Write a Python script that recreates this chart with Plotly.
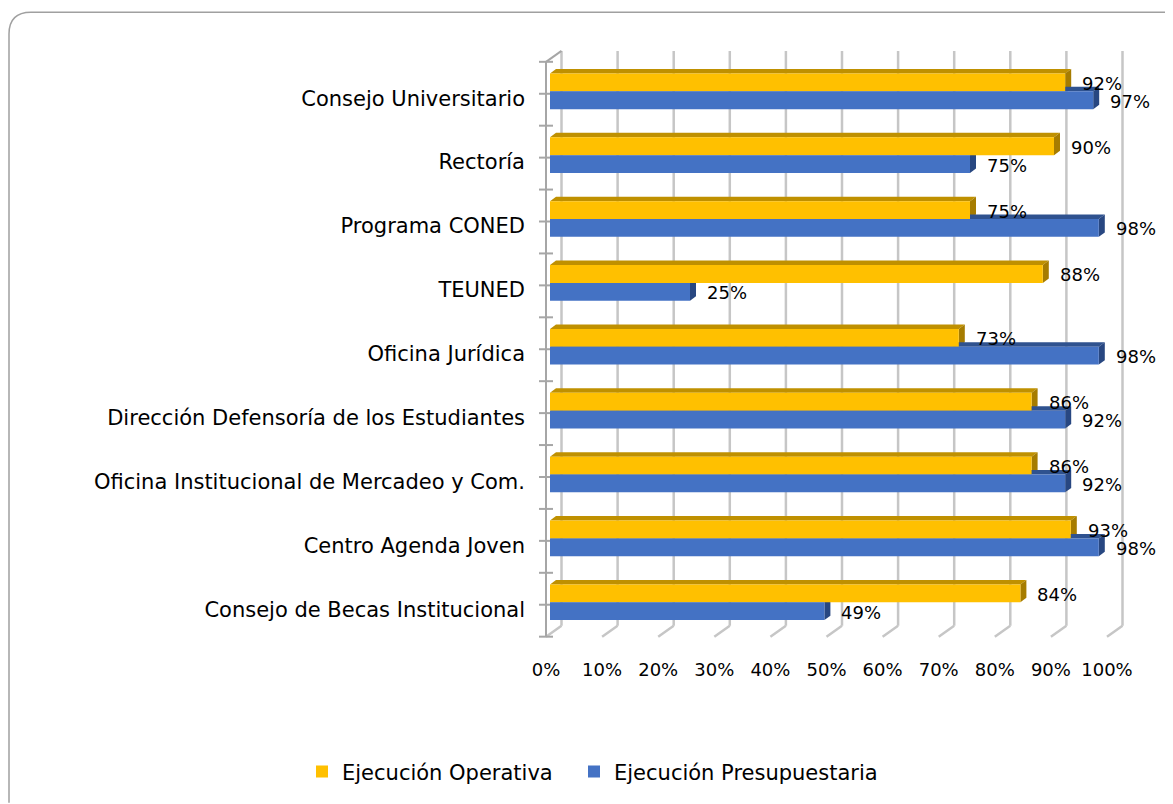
import plotly.graph_objects as go

# ---------------- data ----------------
categories = [
    "Consejo Universitario",
    "Rectoría",
    "Programa CONED",
    "TEUNED",
    "Oficina Jurídica",
    "Dirección Defensoría de los Estudiantes",
    "Oficina Institucional de Mercadeo y Com.",
    "Centro Agenda Joven",
    "Consejo de Becas Institucional",
]
ejec_operativa = [92, 90, 75, 88, 73, 86, 86, 93, 84]
ejec_presupuestaria = [97, 75, 98, 25, 98, 92, 92, 98, 49]
series_names = ["Ejecución Operativa", "Ejecución Presupuestaria"]
tick_values = [0, 10, 20, 30, 40, 50, 60, 70, 80, 90, 100]
tick_labels = [f"{t}%" for t in tick_values]

# ---------------- layout calibration (screen pixels) ----------------
W, H = 1173, 804
OX, OY = 8, 8                            # page body margin
FW, FH = W - OX, H - OY                  # figure size
L, R, T, B = 530, 1135, 40, 650          # plot area in screen pixels
X0PX, XS = 550, 560                      # px of value 0, px per 100 %
Y0PX, YS = 94.2, 64.4                    # px of first category centre, px per category


def dxp(px):
    return px / XS


def dyp(py):
    return py / YS


def paper_x(px):
    return (px - L) / (R - L)


def paper_y(py):
    return (B - py) / (B - T)


x_range = [(L - X0PX) / XS, (R - X0PX) / XS]
y_range = [(B - Y0PX) / YS, (T - Y0PX) / YS]

FRONT0 = dxp(-4)          # front plane of walls
FS = 561 / 560
DX, DY = dxp(15.5), dyp(-11)   # wall depth
BDX, BDY = dxp(6), dyp(-4.5)   # bar depth
BAR_H = dyp(18)
OFFS = [dyp(-11.5), dyp(6.5)]
FRONT = ["#FFC000", "#4472C4"]
DARK_TOP = ["#BF9000", "#2F528F"]
DARK_SIDE = ["#A67C00", "#284781"]
GRID = "#C6C6C6"
AXIS = "#A6A6A6"
FONT = "DejaVu Sans"
LEGEND_TEXT_X = [343, 615]      # where each legend entry's text starts

n = len(categories)
fig = go.Figure()
shapes = []

# back-wall gridlines + floor diagonals
for t in tick_values:
    xf = FRONT0 + t / 100 * FS
    xb = xf + DX
    shapes.append(dict(type="line", xref="x", yref="y", x0=xb, x1=xb,
                       y0=-0.5 + DY, y1=n - 0.5 + DY,
                       line=dict(color=GRID, width=2.5), layer="below"))
    shapes.append(dict(type="line", xref="x", yref="y", x0=xb, x1=xf,
                       y0=n - 0.5 + DY, y1=n - 0.5,
                       line=dict(color=GRID, width=2.5), layer="below"))

# left wall front edge and top diagonal
shapes.append(dict(type="line", xref="x", yref="y", x0=FRONT0, x1=FRONT0,
                   y0=-0.5, y1=n - 0.5, line=dict(color=AXIS, width=2), layer="below"))
shapes.append(dict(type="line", xref="x", yref="y", x0=FRONT0, x1=FRONT0 + DX,
                   y0=-0.5, y1=-0.5 + DY, line=dict(color=AXIS, width=2), layer="below"))
# tick marks every half category
for k in range(2 * n + 1):
    yy = -0.5 + k * 0.5
    shapes.append(dict(type="line", xref="x", yref="y", x0=FRONT0 - dxp(7), x1=FRONT0 + dxp(7),
                       y0=yy, y1=yy, line=dict(color=AXIS, width=2), layer="below"))

# bars (front faces) + 3D faces as shapes
annotations = []
legend_ids = ["legend", "legend2"]
for s, vals in enumerate([ejec_operativa, ejec_presupuestaria]):
    ys = [i + OFFS[s] for i in range(n)]
    xs = [v / 100 for v in vals]
    fig.add_trace(go.Bar(
        x=xs, y=ys, orientation="h", width=BAR_H, name=series_names[s],
        marker=dict(color=FRONT[s], line=dict(width=0)),
        hoverinfo="skip", legend=legend_ids[s],
    ))
    for v, yc in zip(xs, ys):
        yt, yb = yc - BAR_H / 2, yc + BAR_H / 2
        top = (f"M 0,{yt} L {BDX},{yt + BDY} L {v + BDX},{yt + BDY} L {v},{yt} Z")
        side = (f"M {v},{yt} L {v + BDX},{yt + BDY} L {v + BDX},{yb + BDY} L {v},{yb} Z")
        shapes.append(dict(type="path", xref="x", yref="y", path=top,
                           fillcolor=DARK_TOP[s], line=dict(width=0), layer="below"))
        shapes.append(dict(type="path", xref="x", yref="y", path=side,
                           fillcolor=DARK_SIDE[s], line=dict(width=0), layer="below"))
        annotations.append(dict(x=v, y=yc, xref="x", yref="y", text=f"{round(v * 100)}%",
                                showarrow=False, xanchor="left", yanchor="middle",
                                xshift=15, yshift=-1,
                                font=dict(family=FONT, size=18, color="#000000")))

# rounded outer border
r = 22
bx, by = 9, 12
border = (f"M {paper_x(bx)},{paper_y(H + 5)} L {paper_x(bx)},{paper_y(by + r)} "
          f"Q {paper_x(bx)},{paper_y(by)} {paper_x(bx + r)},{paper_y(by)} "
          f"L {paper_x(W + 5)},{paper_y(by)}")
shapes.append(dict(type="path", xref="paper", yref="paper", path=border,
                   line=dict(color="#A0A0A0", width=1.5), layer="below"))


def legend_cfg(text_x):
    return dict(orientation="h", x=paper_x(text_x - 41), y=paper_y(778),
                xanchor="left", yanchor="middle", bgcolor="rgba(0,0,0,0)",
                font=dict(family=FONT, size=21, color="#000000"),
                itemwidth=30)


fig.update_layout(
    width=FW, height=FH,
    margin=dict(l=L - OX, r=W - R, t=T - OY, b=H - B, pad=0),
    paper_bgcolor="white", plot_bgcolor="rgba(0,0,0,0)",
    barmode="overlay",
    showlegend=True,
    legend=legend_cfg(LEGEND_TEXT_X[0]),
    legend2=legend_cfg(LEGEND_TEXT_X[1]),
    xaxis=dict(range=x_range, showgrid=False, zeroline=False, showline=False,
               tickmode="array",
               tickvals=[FRONT0 + t / 100 * FS for t in tick_values],
               ticktext=tick_labels, ticks="outside", ticklen=8,
               tickcolor="rgba(0,0,0,0)",
               tickfont=dict(family=FONT, size=18, color="#000000"),
               fixedrange=True),
    yaxis=dict(range=y_range, showgrid=False, zeroline=False, showline=False,
               tickmode="array",
               tickvals=[i + 0.07 for i in range(n)],
               ticktext=categories, ticks="", ticklabelstandoff=4,
               tickfont=dict(family=FONT, size=21, color="#000000"),
               fixedrange=True),
    shapes=shapes,
    annotations=annotations,
    font=dict(family=FONT),
)

fig.write_html("out.html")
